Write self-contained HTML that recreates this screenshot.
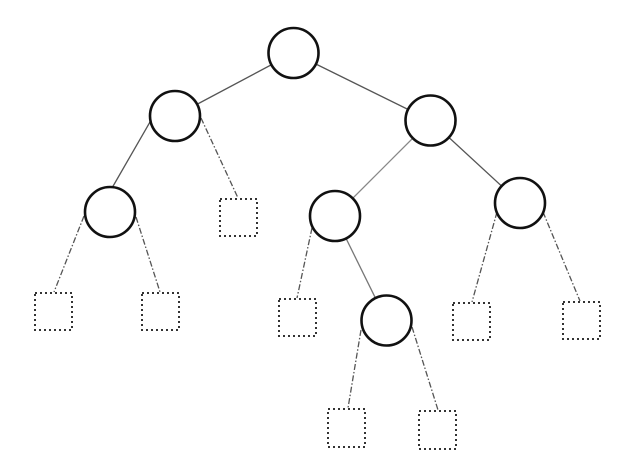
<!DOCTYPE html>
<html><head><style>html,body{margin:0;padding:0;background:#fff}svg{display:block}</style></head>
<body>
<svg width="640" height="476" viewBox="0 0 640 476" xmlns="http://www.w3.org/2000/svg">
<g stroke="#555" stroke-width="1.3" fill="none">
<line x1="293.5" y1="53" x2="175" y2="116"/>
<line x1="293.5" y1="53" x2="430.5" y2="120.5"/>
<line x1="150" y1="122" x2="112" y2="188"/>
<line x1="430.5" y1="120.5" x2="335" y2="216" stroke="#888"/>
<line x1="430.5" y1="120.5" x2="520" y2="203"/>
<line x1="335" y1="216" x2="386.5" y2="320.5" stroke="#777"/>
</g>
<g stroke="#555" stroke-width="1.3" fill="none" stroke-dasharray="6,2,1.5,2">
<line x1="201" y1="118" x2="238" y2="198"/>
<line x1="84" y1="216" x2="54" y2="292"/>
<line x1="136" y1="217" x2="160" y2="292"/>
<line x1="312" y1="228" x2="297" y2="298"/>
<line x1="497" y1="212" x2="472" y2="302"/>
<line x1="543" y1="212" x2="580" y2="301"/>
<line x1="361" y1="330" x2="348" y2="408"/>
<line x1="412" y1="327" x2="438" y2="410"/>
</g>
<g stroke="#111" stroke-width="2.6" fill="#fff">
<circle cx="293.5" cy="53" r="25"/>
<circle cx="175" cy="116" r="25"/>
<circle cx="430.5" cy="120.5" r="25"/>
<circle cx="110" cy="212" r="25"/>
<circle cx="335" cy="216" r="25"/>
<circle cx="520" cy="203" r="25"/>
<circle cx="386.5" cy="320.5" r="25"/>
</g>
<g stroke="#333" stroke-width="2" fill="none" stroke-dasharray="2,3">
<rect x="220" y="199" width="37" height="37"/>
<rect x="35" y="293" width="37" height="37"/>
<rect x="142" y="293" width="37" height="37"/>
<rect x="279" y="299" width="37" height="37"/>
<rect x="453" y="303" width="37" height="37"/>
<rect x="563" y="302" width="37" height="37"/>
<rect x="328" y="409" width="37" height="38"/>
<rect x="419" y="411" width="37" height="38"/>
</g>
</svg>
</body></html>
